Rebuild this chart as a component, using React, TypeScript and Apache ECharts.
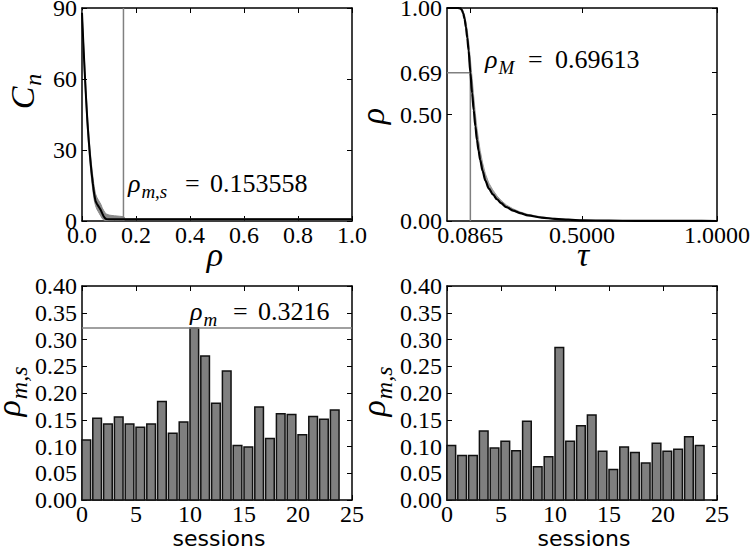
import { useEffect, useRef } from 'react';
import * as echarts from 'echarts';

// ---------------- data ----------------
// Top-left: C_n versus rho (mean curve with spread band)
const cnRho = [0, 0.005, 0.01, 0.015, 0.02, 0.025, 0.03, 0.035, 0.04, 0.045, 0.05, 0.055, 0.06, 0.065, 0.07, 0.075, 0.08, 0.085, 0.09, 0.1, 0.12, 0.14, 0.155, 0.16, 0.2, 0.4, 0.6, 0.8, 1.0];
const cnMean = [88, 75, 63, 52, 42, 34, 27, 21, 16, 11.5, 8.5, 7.3, 6.4, 5.5, 4.5, 3.2, 2, 1.2, 0.8, 0.7, 0.7, 0.7, 0.7, 0.7, 0.7, 0.7, 0.7, 0.7, 0.7];
const cnHigh = [89, 77, 66, 55, 45, 37, 30, 24, 19, 14.5, 11.5, 10, 9, 8, 7, 5.5, 4.5, 3.5, 3, 2.5, 2.2, 2, 1.8, 0.9, 0.9, 0.9, 0.9, 0.9, 0.9];
const cnLow = [87, 73, 60, 49, 39, 31, 24, 18, 13, 9, 6.5, 5, 4, 3, 2, 1, 0.5, 0.2, 0.2, 0.2, 0.3, 0.3, 0.3, 0.5, 0.5, 0.5, 0.5, 0.5, 0.5];
const rhoMS = 0.153558;
const cnXTicks = [0, 0.2, 0.4, 0.6, 0.8, 1.0];
const cnXTickLabels = ['0.0', '0.2', '0.4', '0.6', '0.8', '1.0'];
const cnYTicks = [0, 30, 60, 90];
const cnYTickLabels = ['0', '30', '60', '90'];

// Top-right: rho versus tau
const tauVals = [0, 0.02, 0.04, 0.05, 0.055, 0.06, 0.065, 0.07, 0.075, 0.08, 0.0865, 0.093, 0.099, 0.105, 0.111, 0.117, 0.123, 0.132, 0.142, 0.155, 0.17, 0.185, 0.2, 0.22, 0.245, 0.27, 0.3, 0.35, 0.4, 0.45, 0.5, 0.6, 0.7, 0.8, 0.9, 1.0];
const rhoVals = [1, 1, 1, 0.998, 0.99, 0.975, 0.95, 0.91, 0.86, 0.8, 0.696, 0.6, 0.52, 0.445, 0.38, 0.33, 0.286, 0.235, 0.19, 0.152, 0.125, 0.102, 0.084, 0.065, 0.049, 0.037, 0.026, 0.016, 0.01, 0.006, 0.003, 0.0015, 0.0008, 0.0004, 0.0002, 0.0001];
const rhoBandHigh = [1, 1, 1, 1, 0.997, 0.985, 0.965, 0.935, 0.895, 0.845, 0.76, 0.67, 0.585, 0.505, 0.435, 0.38, 0.33, 0.272, 0.222, 0.178, 0.145, 0.118, 0.097, 0.075, 0.057, 0.043, 0.031, 0.019, 0.012, 0.007, 0.004, 0.002, 0.001, 0.0005, 0.0003, 0.0002];
const tauM = 0.0865;
const rhoM = 0.69613;
const tauTickValues = [0.0865, 0.5, 1.0];
const tauTickLabels = ['0.0865', '0.5000', '1.0000'];
const rhoTickValues = [0, 0.5, 0.69613, 1.0];
const rhoTickLabels = ['0.00', '0.50', '0.69', '1.00'];

// Bottom: rho_{m,s} per session
const sessions = [0, 1, 2, 3, 4, 5, 6, 7, 8, 9, 10, 11, 12, 13, 14, 15, 16, 17, 18, 19, 20, 21, 22, 23];
const rhoMsLeft = [0.112, 0.153, 0.142, 0.155, 0.142, 0.136, 0.142, 0.184, 0.125, 0.146, 0.3216, 0.269, 0.181, 0.241, 0.102, 0.099, 0.174, 0.115, 0.161, 0.160, 0.122, 0.156, 0.151, 0.168];
const rhoMsRight = [0.102, 0.083, 0.083, 0.129, 0.097, 0.110, 0.092, 0.147, 0.062, 0.081, 0.285, 0.110, 0.139, 0.159, 0.091, 0.057, 0.099, 0.089, 0.069, 0.106, 0.091, 0.095, 0.118, 0.102];
const rhoMLeft = 0.3216;
const sessionTicks = [0, 5, 10, 15, 20, 25];
const sessionTickLabels = ['0', '5', '10', '15', '20', '25'];
const rhoMsTicks = [0, 0.05, 0.1, 0.15, 0.2, 0.25, 0.3, 0.35, 0.4];
const rhoMsTickLabels = ['0.00', '0.05', '0.10', '0.15', '0.20', '0.25', '0.30', '0.35', '0.40'];

// annotation texts and anchors (data units)
const annotTL = { at: [0.17, 15.8], sub: 'm,s', value: '0.153558' };
const annotTR = { at: [0.141, 0.757], sub: 'M', value: '0.69613' };
const annotBL = { at: [10.0, 0.352], sub: 'm', value: '0.3216' };

// ---------------- styles ----------------
const SERIF = 'Liberation Serif';
const SANS = 'DejaVu Sans';
const BAR_WIDTH = 0.8;
const TICK_FONT = 24;

let measureCtx: CanvasRenderingContext2D | null = null;
function textWidth(text: string, size: number, italic: boolean, family: string) {
  if (!measureCtx) measureCtx = document.createElement('canvas').getContext('2d');
  if (!measureCtx) return text.length * size * 0.5;
  measureCtx.font = `${italic ? 'italic ' : ''}${size}px "${family}"`;
  return measureCtx.measureText(text).width;
}

const frameLine = { show: true, onZero: false, lineStyle: { color: '#000', width: 1.5 } };

function axisPair(kind: 'x' | 'y', gridIndex: number, cfg: any) {
  const tick: any = { show: true, inside: true, length: 5, lineStyle: { color: '#000', width: 1 } };
  if (cfg.customValues) tick.customValues = cfg.customValues;
  const common: any = {
    type: 'value',
    gridIndex,
    min: cfg.min,
    max: cfg.max,
    splitLine: { show: false },
    axisLine: frameLine,
    axisTick: tick,
    axisLabel: { show: false },
  };
  if (cfg.interval !== undefined) common.interval = cfg.interval;
  return [
    { ...common, position: kind === 'x' ? 'bottom' : 'left' },
    { ...common, position: kind === 'x' ? 'top' : 'right' },
  ];
}

function bandSeries(axisIdx: number, xs: number[], hi: number[], lo: number[], fill: string) {
  return {
    type: 'custom',
    xAxisIndex: axisIdx,
    yAxisIndex: axisIdx,
    data: [[xs[0], hi[0]]],
    clip: true,
    silent: true,
    z: 1,
    renderItem: (_p: any, api: any) => {
      const pts: number[][] = [];
      for (let i = 0; i < xs.length; i++) pts.push(api.coord([xs[i], hi[i]]));
      for (let i = xs.length - 1; i >= 0; i--) pts.push(api.coord([xs[i], lo[i]]));
      return { type: 'polygon', shape: { points: pts }, style: { fill, stroke: fill, lineWidth: 1 } };
    },
  };
}

function barSeries(axisIdx: number, xs: number[], ys: number[]) {
  return {
    type: 'custom',
    xAxisIndex: axisIdx,
    yAxisIndex: axisIdx,
    data: xs.map((x, i) => [x, ys[i]]),
    encode: { x: 0, y: 1 },
    z: 2,
    renderItem: (_p: any, api: any) => {
      const x = api.value(0);
      const y = api.value(1);
      const p0 = api.coord([x, 0]);
      const p1 = api.coord([x + BAR_WIDTH, y]);
      return {
        type: 'rect',
        shape: { x: p0[0], y: p1[1], width: p1[0] - p0[0], height: p0[1] - p1[1] },
        style: { fill: '#7f7f7f', stroke: '#111', lineWidth: 1.5 },
      };
    },
  };
}

function lineSeries(axisIdx: number, data: number[][], color: string, width: number, z: number) {
  return {
    type: 'line',
    xAxisIndex: axisIdx,
    yAxisIndex: axisIdx,
    data,
    symbol: 'none',
    showSymbol: false,
    silent: true,
    z,
    lineStyle: { color, width },
  };
}

// text placed by its vertical centre; horizontal alignment computed from measured width
function txt(x: number, y: number, text: string, family: string, size: number, italic: boolean, align = 'center') {
  const w = textWidth(text, size, italic, family);
  const left = align === 'center' ? x - w / 2 : align === 'right' ? x - w : x;
  const style: any = italic
    ? { text, font: `italic ${size}px "${family}"`, fill: '#000' }
    : { text, fontFamily: family, fontSize: size, fill: '#000' };
  return { type: 'text', x: left, y: y - size / 2, style };
}

// italic symbol with optional subscript; anchor = centre of main symbol's em box
function mathLabel(x: number, y: number, rotation: number, main: string, sub: string, mainSize: number, subSize: number, subDy: number) {
  const wm = textWidth(main, mainSize, true, SERIF);
  const ws = sub ? textWidth(sub, subSize, true, SERIF) : 0;
  const x0 = -(wm + ws) / 2;
  const children: any[] = [txt(x0, 0, main, SERIF, mainSize, true, 'left')];
  if (sub) children.push(txt(x0 + wm + 1, subDy, sub, SERIF, subSize, true, 'left'));
  return { type: 'group', x, y, rotation, children };
}

function annotation(p: number[], sub: string, value: string, eqOffset: number, numOffset: number) {
  const wm = textWidth('ρ', 26, true, SERIF);
  return {
    type: 'group',
    x: p[0],
    y: p[1],
    children: [
      txt(0, 0, 'ρ', SERIF, 26, true, 'left'),
      txt(wm + 1, 7.5, sub, SERIF, 19, true, 'left'),
      txt(eqOffset, 0, '=', SERIF, 26, false, 'left'),
      txt(numOffset, 0, value, SERIF, 26, false, 'left'),
    ],
  };
}

function buildOption() {
  const xAxis = [
    ...axisPair('x', 0, { min: 0, max: 1, interval: 0.2 }),
    ...axisPair('x', 1, { min: 0, max: 1, customValues: tauTickValues }),
    ...axisPair('x', 2, { min: 0, max: 25, interval: 5 }),
    ...axisPair('x', 3, { min: 0, max: 25, interval: 5 }),
  ];
  const yAxis = [
    ...axisPair('y', 0, { min: 0, max: 90, interval: 30 }),
    ...axisPair('y', 1, { min: 0, max: 1, customValues: rhoTickValues }),
    ...axisPair('y', 2, { min: 0, max: 0.4, interval: 0.05 }),
    ...axisPair('y', 3, { min: 0, max: 0.4, interval: 0.05 }),
  ];
  return {
    animation: false,
    grid: [
      { left: 82, top: 8, width: 270, height: 213 },
      { left: 447, top: 8, width: 270, height: 213 },
      { left: 82, top: 286, width: 270, height: 214 },
      { left: 447, top: 286, width: 270, height: 214 },
    ],
    xAxis,
    yAxis,
    series: [
      // top-left
      bandSeries(0, cnRho, cnHigh, cnLow, '#8a8a8a'),
      lineSeries(0, [[rhoMS, 0], [rhoMS, 90]], '#808080', 1.5, 2),
      lineSeries(0, cnRho.map((r, i) => [r, cnMean[i]]), '#000', 2, 3),
      // top-right
      bandSeries(2, tauVals, rhoBandHigh, rhoVals, '#9a9a9a'),
      lineSeries(2, [[0, rhoM], [tauM, rhoM]], '#808080', 1.5, 2),
      lineSeries(2, [[tauM, 0], [tauM, rhoM]], '#808080', 1.5, 2),
      { ...lineSeries(2, tauVals.map((t, i) => [t, rhoVals[i]]), '#000', 2.2, 3), smooth: 0.3, smoothMonotone: 'x' },
      // bottom-left
      barSeries(4, sessions, rhoMsLeft),
      lineSeries(4, [[0, rhoMLeft], [25, rhoMLeft]], '#808080', 1.5, 4),
      // bottom-right
      barSeries(6, sessions, rhoMsRight),
    ],
  };
}

function buildGraphics(chart: any) {
  const px = (g: number, v: number[]) => chart.convertToPixel({ gridIndex: g }, v) as number[];
  const graphics: any[] = [];
  const addTicks = (g: number, xs: number[], xl: string[], ys: number[], yl: string[]) => {
    const origin = px(g, [0, 0]);
    xs.forEach((v, i) => {
      const p = px(g, [v, 0]);
      graphics.push(txt(p[0], origin[1] + 14, xl[i], SERIF, TICK_FONT, false, 'center'));
    });
    ys.forEach((v, i) => {
      const p = px(g, [0, v]);
      graphics.push(txt(origin[0] - 5, p[1], yl[i], SERIF, TICK_FONT, false, 'right'));
    });
  };
  addTicks(0, cnXTicks, cnXTickLabels, cnYTicks, cnYTickLabels);
  addTicks(1, tauTickValues, tauTickLabels, rhoTickValues, rhoTickLabels);
  addTicks(2, sessionTicks, sessionTickLabels, rhoMsTicks, rhoMsTickLabels);
  addTicks(3, sessionTicks, sessionTickLabels, rhoMsTicks, rhoMsTickLabels);

  const rot = Math.PI / 2;
  graphics.push(mathLabel(22, 92, rot, 'C', 'n', 34, 24, 10.5));
  graphics.push(mathLabel(372, 116, rot, 'ρ', '', 34, 24, 10.5));
  graphics.push(mathLabel(8, 392, rot, 'ρ', 'm,s', 34, 24, 10.5));
  graphics.push(mathLabel(373, 392, rot, 'ρ', 'm,s', 34, 24, 10.5));
  graphics.push(mathLabel(215, 254, 0, 'ρ', '', 34, 24, 10.5));
  graphics.push(mathLabel(583, 254, 0, 'τ', '', 34, 24, 10.5));
  graphics.push(txt(219, 538, 'sessions', SANS, 22, false, 'center'));
  graphics.push(txt(584, 538, 'sessions', SANS, 22, false, 'center'));

  graphics.push(annotation(px(0, annotTL.at), annotTL.sub, annotTL.value, 57, 82));
  graphics.push(annotation(px(1, annotTR.at), annotTR.sub, annotTR.value, 43, 70));
  graphics.push(annotation(px(2, annotBL.at), annotBL.sub, annotBL.value, 43, 68));
  return graphics;
}

export default function App() {
  const ref = useRef<HTMLDivElement>(null);

  useEffect(() => {
    if (!ref.current) return;
    const chart = echarts.init(ref.current, null, { renderer: 'svg' });
    chart.setOption(buildOption());
    chart.setOption({ graphic: buildGraphics(chart) });
    return () => chart.dispose();
  }, []);

  return (
    <div style={{ position: 'absolute', left: 0, top: 0, width: 750, height: 549, background: '#fff' }}>
      <div ref={ref} style={{ width: 750, height: 549 }} />
    </div>
  );
}
